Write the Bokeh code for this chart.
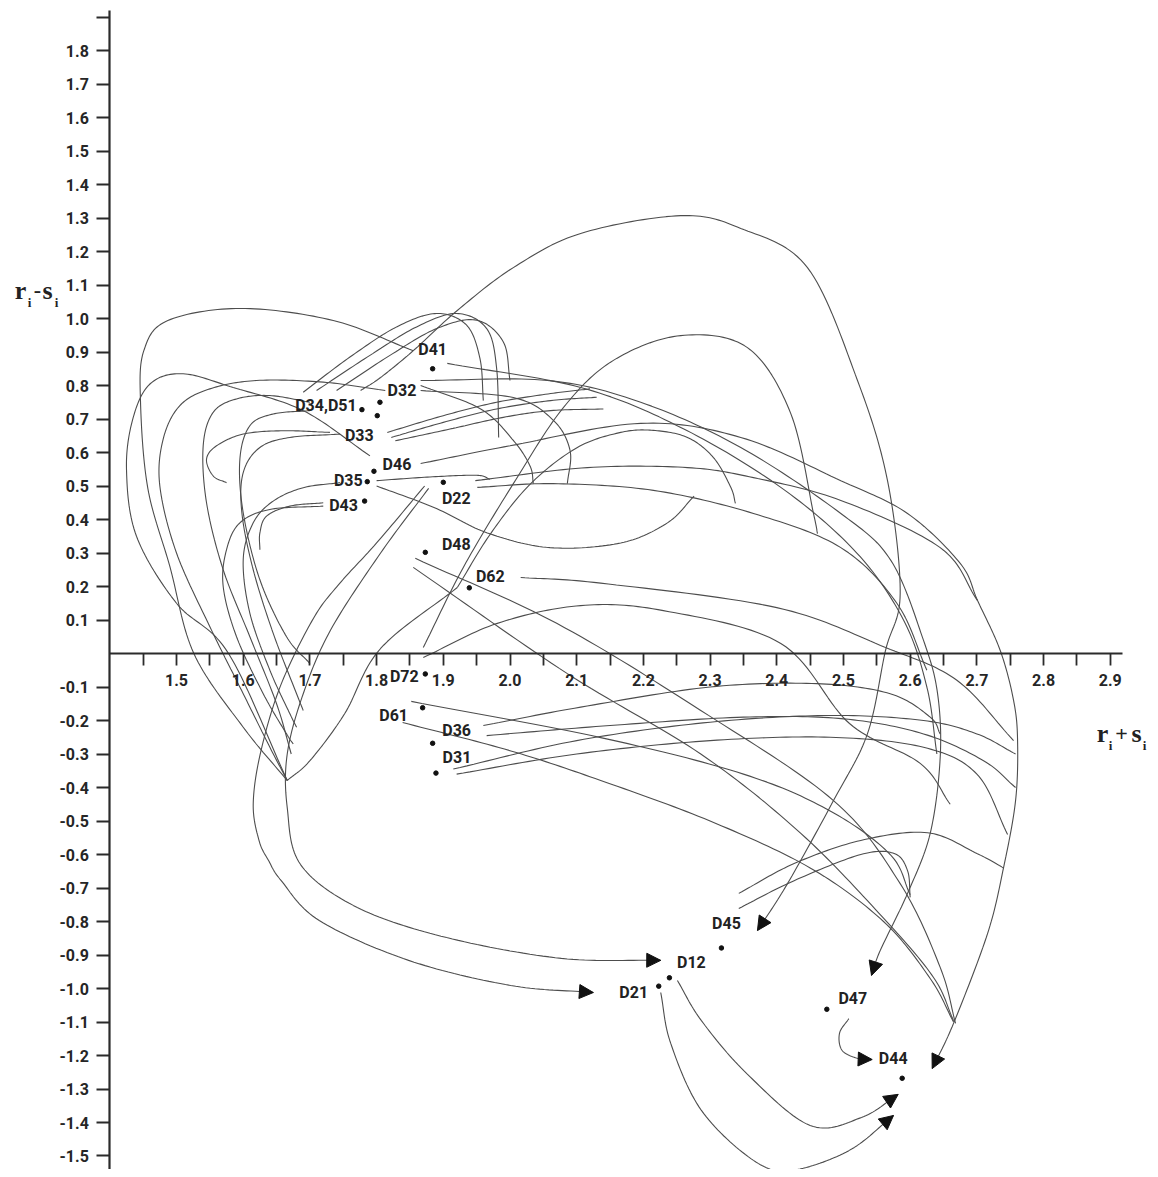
import numpy as np
from bokeh.plotting import figure
from bokeh.models import (LinearAxis, FixedTicker, PrintfTickFormatter, ColumnDataSource,
                          Arrow, NormalHead, Label)
from bokeh.core.properties import value
from bokeh.embed import file_html
from bokeh.resources import INLINE

# ---------------- data ----------------
node_names = ["D41", "D32", "D34,D51", "D33", "D46", "D35", "D43", "D22", "D48", "D62",
              "D72", "D61", "D36", "D31", "D45", "D12", "D21", "D47", "D44"]
node_x = [1.884, 1.805, 1.778, 1.801, 1.796, 1.786, 1.782, 1.900, 1.873, 1.939,
          1.873, 1.869, 1.884, 1.889, 2.317, 2.239, 2.223, 2.475, 2.588]
node_y = [0.850, 0.750, 0.728, 0.710, 0.544, 0.513, 0.455, 0.511, 0.302, 0.196,
          -0.061, -0.162, -0.268, -0.357, -0.879, -0.968, -0.993, -1.062, -1.268]
label_dx = [0, 22, -36, -18, 23, -19, -21, 13, 31, 21, -21, -29, 24, 21, 5, 22, -25, 26, -9]
label_dy = [-19, -12, -4, 20, -7, -1, 4, 16, -8, -11, 3, 8, -13, -16, -24, -15, 6, -11, -20]

x_tick_labels = [1.5, 1.6, 1.7, 1.8, 1.9, 2.0, 2.1, 2.2, 2.3, 2.4, 2.5, 2.6, 2.7, 2.8, 2.9]
x_minor = [1.45, 1.55, 1.65, 1.75, 1.85, 1.95, 2.05, 2.15, 2.25, 2.35, 2.45, 2.55, 2.65, 2.75, 2.85]
y_tick_labels = [-1.5, -1.4, -1.3, -1.2, -1.1, -1.0, -0.9, -0.8, -0.7, -0.6, -0.5, -0.4, -0.3, -0.2, -0.1,
                 0.1, 0.2, 0.3, 0.4, 0.5, 0.6, 0.7, 0.8, 0.9, 1.0, 1.1, 1.2, 1.3, 1.4, 1.5, 1.6, 1.7, 1.8]
y_extra_tick = [1.9]

# influence curves: waypoints (x list, y list, arrowhead at end)
curves = [
    # big arc over the top -> D45
    ([1.776, 1.806, 1.855, 1.921, 2.005, 2.106, 2.256, 2.346, 2.446, 2.521, 2.566, 2.585, 2.563, 2.536, 2.485, 2.416, 2.371],
     [0.785, 0.824, 0.904, 1.024, 1.152, 1.254, 1.307, 1.269, 1.152, 0.815, 0.516, 0.179, 0.009, -0.239, -0.439, -0.687, -0.827], True),
    # D72 arc, apex 0.95
    ([1.870, 1.930, 2.005, 2.080, 2.155, 2.256, 2.356, 2.421, 2.455, 2.461],
     [0.018, 0.257, 0.507, 0.734, 0.875, 0.949, 0.913, 0.716, 0.418, 0.358], False),
    # D62 arc, apex 0.67
    ([1.921, 1.971, 2.031, 2.101, 2.166, 2.215, 2.266, 2.305, 2.331, 2.338],
     [0.197, 0.358, 0.507, 0.615, 0.660, 0.666, 0.645, 0.585, 0.496, 0.448], False),
    # D32 -> D47
    ([1.866, 2.056, 2.196, 2.346, 2.496, 2.571, 2.620, 2.641, 2.645, 2.630, 2.596, 2.555, 2.542],
     [0.815, 0.815, 0.750, 0.615, 0.418, 0.278, 0.039, -0.119, -0.310, -0.537, -0.716, -0.887, -0.961], True),
    # D46 -> D44
    ([1.866, 2.000, 2.196, 2.346, 2.496, 2.596, 2.675, 2.701, 2.735, 2.755, 2.761, 2.758, 2.740, 2.716, 2.665, 2.633],
     [0.567, 0.620, 0.687, 0.645, 0.516, 0.418, 0.269, 0.158, 0.009, -0.140, -0.260, -0.439, -0.639, -0.836, -1.104, -1.239], True),
    # D41 -> right
    ([1.906, 2.106, 2.256, 2.406, 2.520, 2.590, 2.625, 2.640],
     [0.866, 0.794, 0.675, 0.496, 0.300, 0.100, -0.100, -0.300], False),
    # D22 -> right
    ([1.948, 2.116, 2.266, 2.365, 2.496, 2.645, 2.701],
     [0.516, 0.555, 0.555, 0.525, 0.457, 0.316, 0.158], False),
    ([1.951, 2.065, 2.215, 2.365, 2.496, 2.580, 2.625],
     [0.496, 0.507, 0.487, 0.418, 0.316, 0.150, -0.050], False),
    # D35 lower arc
    ([1.800, 1.886, 1.966, 2.060, 2.166, 2.236, 2.276],
     [0.500, 0.436, 0.360, 0.316, 0.330, 0.390, 0.470], False),
    ([1.800, 1.880, 1.950, 1.970],
     [0.516, 0.527, 0.532, 0.520], False),
    # small top loops
    ([1.690, 1.760, 1.830, 1.890, 1.935, 1.955, 1.960],
     [0.780, 0.885, 0.975, 1.015, 0.980, 0.880, 0.755], False),
    ([1.710, 1.790, 1.860, 1.920, 1.965, 1.980, 1.983],
     [0.785, 0.890, 0.975, 1.015, 0.970, 0.850, 0.645], False),
    ([1.740, 1.820, 1.890, 1.950, 1.990, 2.000],
     [0.785, 0.890, 0.970, 0.995, 0.930, 0.815], False),
    # D32 loops down
    ([1.866, 2.005, 2.065, 2.090, 2.086], [0.785, 0.764, 0.696, 0.606, 0.507], False),
    ([1.866, 1.956, 2.005, 2.030, 2.035], [0.800, 0.730, 0.636, 0.560, 0.507], False),
    # D33 -> up right
    ([1.816, 1.900, 1.980, 2.061, 2.120], [0.660, 0.710, 0.750, 0.776, 0.790], False),
    ([1.822, 1.900, 1.980, 2.061, 2.130], [0.645, 0.690, 0.730, 0.755, 0.765], False),
    ([1.828, 1.910, 1.990, 2.061, 2.140], [0.635, 0.670, 0.705, 0.725, 0.730], False),
    # D62 -> right
    ([2.016, 2.136, 2.400, 2.563, 2.670, 2.755], [0.227, 0.210, 0.137, 0.018, -0.080, -0.260], False),
    # D72 low arc
    ([1.870, 1.981, 2.106, 2.230, 2.406, 2.509, 2.615, 2.660],
     [-0.012, 0.090, 0.143, 0.128, 0.030, -0.209, -0.328, -0.450], False),
    # diagonals to D44 trunk
    ([1.858, 2.070, 2.286, 2.485, 2.585, 2.645, 2.668], [0.284, 0.090, -0.170, -0.439, -0.687, -0.937, -1.104], False),
    ([1.855, 2.086, 2.286, 2.436, 2.560, 2.635, 2.665], [0.257, -0.060, -0.300, -0.537, -0.790, -0.967, -1.096], False),
    ([1.852, 2.136, 2.350, 2.480, 2.570, 2.600], [-0.143, -0.251, -0.360, -0.470, -0.600, -0.720], False),
    ([1.839, 2.000, 2.136, 2.300, 2.450, 2.560, 2.630, 2.665], [-0.206, -0.290, -0.379, -0.500, -0.640, -0.800, -0.970, -1.100], False),
    # D36 / D31 -> right
    ([1.960, 2.106, 2.300, 2.460, 2.570, 2.630, 2.645], [-0.215, -0.160, -0.100, -0.090, -0.120, -0.190, -0.240], False),
    ([1.965, 2.150, 2.350, 2.500, 2.620, 2.710, 2.758], [-0.245, -0.215, -0.190, -0.195, -0.240, -0.320, -0.400], False),
    ([1.915, 2.100, 2.300, 2.480, 2.620, 2.700, 2.758], [-0.345, -0.260, -0.205, -0.185, -0.200, -0.240, -0.300], False),
    ([1.920, 2.100, 2.300, 2.480, 2.620, 2.700, 2.746], [-0.360, -0.300, -0.260, -0.250, -0.280, -0.360, -0.540], False),
    # D45 -> right
    ([2.343, 2.426, 2.526, 2.626, 2.700, 2.740], [-0.716, -0.627, -0.558, -0.535, -0.597, -0.640], False),
    ([2.343, 2.426, 2.526, 2.576, 2.596, 2.600], [-0.761, -0.678, -0.600, -0.597, -0.648, -0.728], False),
    # D12, D21, D47 -> D44
    ([2.251, 2.287, 2.355, 2.450, 2.527, 2.582], [-0.976, -1.096, -1.254, -1.409, -1.385, -1.316], True),
    ([2.226, 2.241, 2.287, 2.365, 2.422, 2.508, 2.575], [-1.012, -1.164, -1.364, -1.513, -1.543, -1.484, -1.379], True),
    ([2.508, 2.494, 2.498, 2.522, 2.543], [-1.090, -1.134, -1.185, -1.209, -1.212], True),
    # D22 -> D12 and D21 (down the left side)
    ([1.878, 1.806, 1.731, 1.690, 1.666, 1.666, 1.686, 1.771, 1.905, 2.077, 2.226],
     [0.493, 0.300, 0.070, -0.120, -0.300, -0.460, -0.630, -0.758, -0.848, -0.910, -0.916], True),
    ([1.872, 1.800, 1.745, 1.705, 1.656, 1.626, 1.615, 1.624, 1.638, 1.657, 1.714, 1.848, 2.001, 2.125],
     [0.500, 0.330, 0.210, 0.104, -0.096, -0.296, -0.451, -0.560, -0.618, -0.678, -0.797, -0.916, -0.991, -1.012], True),
    # D62 -> down-left
    ([1.921, 1.806, 1.752, 1.700, 1.666], [0.197, 0.015, -0.180, -0.320, -0.379], False),
    # left loops
    ([1.855, 1.735, 1.596, 1.487, 1.451, 1.446, 1.457, 1.490, 1.526, 1.600, 1.666],
     [0.904, 0.994, 1.030, 0.994, 0.904, 0.752, 0.493, 0.260, 0.000, -0.220, -0.379], False),
    ([1.790, 1.690, 1.585, 1.510, 1.461, 1.435, 1.425, 1.440, 1.500, 1.578, 1.666],
     [0.590, 0.725, 0.794, 0.835, 0.806, 0.704, 0.550, 0.350, 0.150, 0.000, -0.379], False),
    ([1.813, 1.720, 1.620, 1.550, 1.505, 1.480, 1.475, 1.500, 1.550, 1.600, 1.640, 1.666],
     [0.785, 0.810, 0.815, 0.790, 0.740, 0.640, 0.500, 0.300, 0.080, -0.120, -0.280, -0.379], False),
    ([1.700, 1.640, 1.590, 1.555, 1.540, 1.545, 1.570, 1.610, 1.650, 1.672],
     [0.750, 0.770, 0.760, 0.720, 0.620, 0.450, 0.250, 0.050, -0.150, -0.300], False),
    ([1.700, 1.645, 1.610, 1.595, 1.600, 1.625, 1.665, 1.700],
     [0.725, 0.715, 0.680, 0.580, 0.420, 0.220, 0.050, -0.030], False),
    ([1.745, 1.670, 1.625, 1.600, 1.598, 1.615, 1.645, 1.680, 1.690],
     [0.655, 0.645, 0.615, 0.540, 0.420, 0.250, 0.060, -0.120, -0.170], False),
    ([1.745, 1.690, 1.645, 1.615, 1.600, 1.610, 1.640, 1.670, 1.680],
     [0.510, 0.495, 0.455, 0.390, 0.280, 0.120, -0.050, -0.180, -0.220], False),
    ([1.720, 1.670, 1.635, 1.625, 1.625], [0.450, 0.440, 0.410, 0.360, 0.310], False),
    ([1.720, 1.640, 1.595, 1.575, 1.570, 1.590, 1.630, 1.665, 1.675],
     [0.440, 0.430, 0.390, 0.310, 0.200, 0.050, -0.120, -0.240, -0.270], False),
    ([1.730, 1.660, 1.600, 1.560, 1.545, 1.555, 1.575],
     [0.660, 0.665, 0.655, 0.620, 0.580, 0.530, 0.510], False),
]

# ---------------- geometry helpers ----------------
SX, SY = 667.0, 335.0  # pixel per data unit, for isotropic smoothing


def smooth(xs, ys, n=18):
    P = np.column_stack([np.asarray(xs) * SX, np.asarray(ys) * SY])
    P = np.vstack([2 * P[0] - P[1], P, 2 * P[-1] - P[-2]])
    out = []
    t = np.linspace(0, 1, n, endpoint=False)[:, None]
    for i in range(1, len(P) - 2):
        p0, p1, p2, p3 = P[i - 1], P[i], P[i + 1], P[i + 2]
        pts = 0.5 * (2 * p1 + (-p0 + p2) * t + (2 * p0 - 5 * p1 + 4 * p2 - p3) * t ** 2
                     + (-p0 + 3 * p1 - 3 * p2 + p3) * t ** 3)
        out.append(pts)
    out.append(P[-2][None, :])
    r = np.vstack(out)
    return r[:, 0] / SX, r[:, 1] / SY


W, H = 1150, 1169
p = figure(width=W, height=H, x_range=(1.2361, 2.9603), y_range=(-1.5403, 1.9493),
           x_axis_type=None, y_axis_type=None, toolbar_location=None,
           output_backend="svg", min_border=0, outline_line_color=None)
p.background_fill_color = "white"
p.border_fill_color = "white"

TICK_FONT = "Roboto"

xaxis = LinearAxis(fixed_location=0,
                   ticker=FixedTicker(ticks=x_tick_labels, minor_ticks=x_minor),
                   formatter=PrintfTickFormatter(format="%.1f"),
                   bounds=(1.4, 2.918))
yaxis = LinearAxis(fixed_location=1.4,
                   ticker=FixedTicker(ticks=y_tick_labels, minor_ticks=y_extra_tick),
                   formatter=PrintfTickFormatter(format="%.1f"),
                   bounds=(-1.58, 1.92))
for ax in (xaxis, yaxis):
    ax.axis_line_width = 2.2
    ax.axis_line_color = "#2b2b2b"
    ax.major_tick_line_color = "#2b2b2b"
    ax.minor_tick_line_color = "#2b2b2b"
    ax.major_tick_line_width = 1.8
    ax.minor_tick_line_width = 1.8
    ax.major_tick_in = 0
    ax.minor_tick_in = 0
    ax.major_label_text_font = TICK_FONT
    ax.major_label_text_font_style = "bold"
    ax.major_label_text_font_size = "16px"
    ax.major_label_text_color = "#262626"
xaxis.major_tick_out = 12
xaxis.minor_tick_out = 12
xaxis.major_label_standoff = 8
yaxis.major_tick_out = 13
yaxis.minor_tick_out = 13
yaxis.major_label_standoff = 8
p.add_layout(xaxis, "below")
p.add_layout(yaxis, "left")

# curves
mx, my = [], []
for xs, ys, arrow in curves:
    cx, cy = smooth(xs, ys)
    mx.append(list(cx))
    my.append(list(cy))
    if arrow:
        p.add_layout(Arrow(end=NormalHead(size=14, fill_color="#111111", line_color="#111111", line_width=1),
                           x_start=float(cx[-4]), y_start=float(cy[-4]),
                           x_end=float(cx[-1]), y_end=float(cy[-1]),
                           line_alpha=0))
p.multi_line(xs=mx, ys=my, line_color="#4d4d4d", line_width=1.1)

# nodes
src = ColumnDataSource(dict(x=node_x, y=node_y, name=node_names, dx=label_dx, dy=label_dy))
p.scatter("x", "y", source=src, size=4.5, color="#111111")
p.text("x", "y", text="name", source=src, x_offset="dx", y_offset="dy",
       text_align="center", text_baseline="middle",
       text_font=value(TICK_FONT), text_font_style="bold", text_font_size="16px",
       text_color="#222222")

# axis titles (r_i - s_i, r_i + s_i) in screen units
pieces = [("r", 20, 290, "26px"), ("i", 29, 302, "13px"), ("-", 37, 289, "22px"),
          ("s", 47, 290, "26px"), ("i", 56, 302, "13px"),
          ("r", 1102, 733, "26px"), ("i", 1110, 745, "13px"), ("+", 1121, 733, "22px"),
          ("s", 1136, 733, "26px"), ("i", 1144, 745, "13px")]
for t, px, py, fs in pieces:
    p.add_layout(Label(x=px, y=H - py, x_units="screen", y_units="screen", text=t,
                       text_font="Liberation Serif", text_font_style="bold", text_font_size=fs,
                       text_align="center", text_baseline="middle", text_color="#222222"))

open("out.html", "w").write(file_html(p, INLINE))
